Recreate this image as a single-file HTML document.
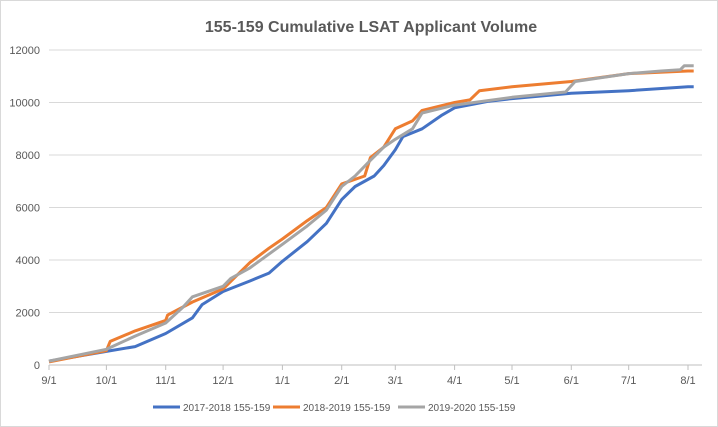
<!DOCTYPE html>
<html><head><meta charset="utf-8"><style>
body{margin:0;background:#fff;}
svg{display:block;font-family:"Liberation Sans",sans-serif;}
</style></head><body>
<svg id="chart" width="718" height="427">
<rect x="0.5" y="0.5" width="717" height="426" fill="#fff" stroke="#d9d9d9"/>
<text x="371" y="32" text-anchor="middle" font-size="16" font-weight="bold" fill="#595959">155-159 Cumulative LSAT Applicant Volume</text>
<g id="grid"></g><g id="axes"></g><g id="series"></g>
<g id="legend"></g>
</svg>
<script>
const xTickLabels=["9/1","10/1","11/1","12/1","1/1","2/1","3/1","4/1","5/1","6/1","7/1","8/1"];
const xTickDays=[0,30,61,91,122,153,181,212,242,273,303,334];
const yTicks=[0,2000,4000,6000,8000,10000,12000];
const seriesNames=["2017-2018 155-159","2018-2019 155-159","2019-2020 155-159"];
const seriesColors=["#4472c4","#ed7d31","#a5a5a5"];
const blueDays=[0,30,45,61,75,80,91,105,115,122,135,145,153,160,170,175,181,185,195,205,212,230,242,273,303,334,337];
const blueVals=[150,520,700,1200,1800,2300,2800,3200,3500,3950,4700,5400,6300,6800,7200,7600,8200,8700,9000,9500,9800,10050,10150,10350,10450,10600,10600];
const orangeDays=[0,30,32,45,61,62,75,91,105,115,122,135,145,153,165,168,175,181,190,195,212,220,225,242,273,303,334,337];
const orangeVals=[120,550,900,1300,1700,1900,2400,2900,3900,4450,4800,5500,6000,6900,7200,7900,8300,9000,9300,9700,10000,10100,10450,10600,10800,11100,11200,11200];
const grayDays=[0,30,45,61,70,75,91,95,105,122,135,145,153,160,168,175,181,190,195,212,242,270,275,303,320,330,332,337];
const grayVals=[150,600,1100,1600,2200,2600,3000,3300,3700,4600,5300,5900,6800,7200,7800,8300,8600,9000,9600,9900,10200,10400,10800,11100,11200,11250,11400,11400];
const NS="http://www.w3.org/2000/svg";
const x0=49,x1=688,y0=365,y1=50;
const xs=d=>x0+(x1-x0)*d/334;
const ys=v=>y0-(y0-y1)*v/12000;
function mk(t,a,p){const e=document.createElementNS(NS,t);for(const k in a)e.setAttribute(k,a[k]);p.appendChild(e);return e;}
const grid=document.getElementById('grid'),axes=document.getElementById('axes'),ser=document.getElementById('series'),leg=document.getElementById('legend');
yTicks.forEach(v=>{
 const l=mk('line',{x1:x0,x2:702,y1:ys(v),y2:ys(v),stroke:v===0?'#bfbfbf':'#d9d9d9'},grid);
 
 
 const t=mk('text',{x:40,y:ys(v)+4,'text-anchor':'end','font-size':11,fill:'#595959'},axes);
 t.textContent=v;
 
 
});
xTickDays.forEach((d,i)=>{
 const tk=mk('line',{x1:xs(d),x2:xs(d),y1:y0,y2:y0+5,stroke:'#bfbfbf'},axes);
 
 
 const t=mk('text',{x:xs(d),y:384,'text-anchor':'middle','font-size':11,fill:'#595959'},axes);
 t.textContent=xTickLabels[i];
 
 
});
const all=[[blueDays,blueVals],[orangeDays,orangeVals],[grayDays,grayVals]];
all.forEach((s,i)=>{
 const pts=s[0].map((d,j)=>xs(d).toFixed(1)+','+ys(s[1][j]).toFixed(1)).join(' ');
 const p=mk('polyline',{points:pts,fill:'none',stroke:seriesColors[i],'stroke-width':3,'stroke-linejoin':'round'},ser);
 
 
 const lx=[153,273,398][i];
 const ll=mk('line',{x1:lx,x2:lx+27,y1:407,y2:407,stroke:seriesColors[i],'stroke-width':3},leg);
 
 
 const lt=mk('text',{x:lx+30,y:411,'font-size':10,fill:'#595959'},leg);
 lt.textContent=seriesNames[i];
 
 
});
</script>
</body></html>
